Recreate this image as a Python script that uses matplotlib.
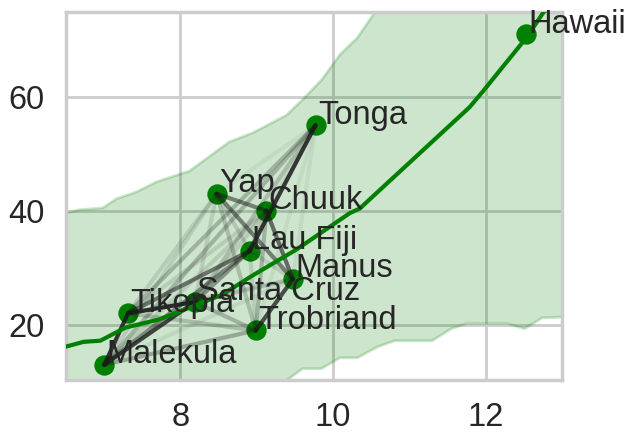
import matplotlib
matplotlib.use("Agg")
import matplotlib.pyplot as plt
import seaborn as sns
import numpy as np

# region data
culture = ["Malekula", "Tikopia", "Santa Cruz", "Yap", "Lau Fiji",
           "Trobriand", "Chuuk", "Manus", "Tonga", "Hawaii"]
logpop = [7.003, 7.313, 8.189, 8.474, 8.909, 8.987, 9.127, 9.473, 9.770, 12.525]
total_tools = [13, 22, 24, 43, 33, 19, 40, 28, 55, 71]

# opacity of the link between each pair of societies (upper triangle)
rho = [
    [0, .85, .80, .12, .45, .30, .12, .08, .25, 0],
    [0, 0, .90, .12, .55, .20, .12, .08, .25, 0],
    [0, 0, 0, .12, .40, .25, .12, .15, .20, 0],
    [0, 0, 0, 0, .15, .20, .50, .50, .05, 0],
    [0, 0, 0, 0, 0, .12, .15, .12, .85, 0],
    [0, 0, 0, 0, 0, 0, .25, .75, .05, 0],
    [0, 0, 0, 0, 0, 0, 0, .60, .08, 0],
    [0, 0, 0, 0, 0, 0, 0, 0, .05, 0],
    [0, 0, 0, 0, 0, 0, 0, 0, 0, 0],
    [0, 0, 0, 0, 0, 0, 0, 0, 0, 0],
]

# posterior median trend
trend_x = [6.40, 6.51, 6.73, 6.95, 7.28, 7.71, 8.16, 8.55, 8.94, 9.52,
           10.22, 10.35, 11.79, 11.96, 12.54, 12.75, 13.10]
trend_y = [16.0, 16.2, 17.0, 17.2, 19.5, 20.9, 23.2, 25.3, 28.6, 33.2,
           39.6, 40.4, 58.2, 60.9, 70.5, 74.7, 80.0]

# interval band
band_x = [6.40, 6.51, 6.68, 6.98, 7.16, 7.42, 7.69, 8.12, 8.64, 8.95, 9.39,
          9.60, 9.85, 10.09, 10.32, 10.58, 10.81, 11.30, 11.55, 11.75,
          12.28, 12.51, 12.74, 13.10]
band_lo = [0.0, 0.0, 0.0, 0.0, 0.0, 0.0, 0.0, 0.0, 4.0, 7.0, 10.2,
           12.3, 12.3, 14.2, 14.2, 16.1, 17.2, 17.2, 19.3, 20.2,
           20.2, 19.3, 21.2, 21.4]
band_hi = [39.5, 39.6, 40.2, 40.5, 42.1, 43.3, 45.1, 47.0, 52.1, 53.7, 56.8,
           59.5, 63.0, 67.4, 70.4, 75.5, 80.0, 90.0, 95.0, 100.0,
           110.0, 115.0, 120.0, 130.0]
# end region


def main():
    sns.set_theme(style="whitegrid", context="poster")
    plt.rcParams["font.family"] = ["Liberation Sans", "DejaVu Sans"]

    green = "#008000"
    fig = plt.figure(figsize=(6.35, 4.41), dpi=100)
    ax = fig.add_axes([0.1039, 0.1383, 0.7811, 0.8345])

    ax.fill_between(band_x, band_lo, band_hi, color=green, alpha=0.2)
    ax.scatter(logpop, total_tools, s=160, color=green, zorder=3)

    n = len(culture)
    for i in range(n):
        for j in range(i + 1, n):
            if rho[i][j] > 0:
                ax.plot([logpop[i], logpop[j]], [total_tools[i], total_tools[j]],
                        "k-", alpha=rho[i][j], lw=3, zorder=4)

    ax.plot(trend_x, trend_y, color=green, lw=3, zorder=5)

    for i, name in enumerate(culture):
        ax.text(logpop[i] + 0.03, total_tools[i] + 0.3, name, fontsize=23.5,
                color="#262626", zorder=6)

    ax.set_xlim(6.5, 13.0)
    ax.set_ylim(10.3, 74.9)
    ax.set_xticks([8, 10, 12])
    ax.set_yticks([20, 40, 60])
    ax.tick_params(labelsize=23.5)
    for s in ax.spines.values():
        s.set_color("#cccccc")
        s.set_linewidth(2.5)

    fig.savefig("out.png", dpi=100)


if __name__ == "__main__":
    main()
